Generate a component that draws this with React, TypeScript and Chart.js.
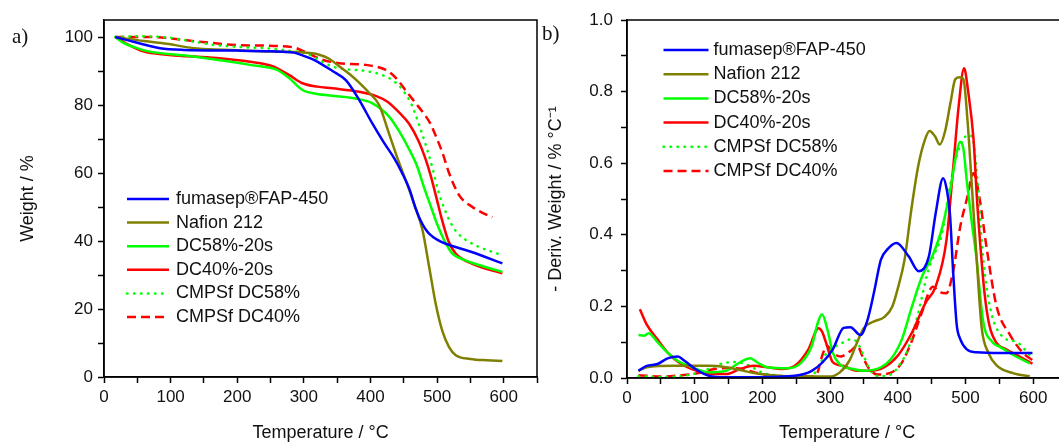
import React, { useEffect, useRef } from 'react';
import { Chart, registerables } from 'chart.js';
Chart.register(...registerables);

const FONT = '"Liberation Sans", Arial, sans-serif';

const seriesLabels = ['fumasep®FAP-450', 'Nafion 212', 'DC58%-20s', 'DC40%-20s', 'CMPSf DC58%', 'CMPSf DC40%'];

// ---- Panel a) TGA: weight (%) vs temperature (°C)
const tgaFumasepT = [17, 44, 84, 120, 200, 250, 285, 298, 318, 343, 363, 383, 403, 420, 436, 448, 458, 468, 473, 478, 483, 488, 500, 513, 553, 598];
const tgaFumasepW = [100, 98.6, 96.7, 96.2, 96.0, 95.8, 95.4, 94.6, 93.0, 90.0, 87.3, 81.5, 74.5, 69.0, 64.2, 59.8, 55.5, 49.5, 47.0, 45.0, 43.4, 42.2, 40.4, 39.2, 36.7, 33.4];
const tgaNafionT = [17, 60, 94, 140, 200, 250, 295, 323, 338, 353, 368, 383, 398, 413, 428, 443, 455, 467, 478, 488, 498, 508, 518, 528, 550, 575, 598];
const tgaNafionW = [100, 98.8, 98.0, 96.6, 96.1, 95.7, 95.5, 94.8, 93.6, 91.4, 89.2, 86.6, 83.6, 80.0, 71.5, 63.0, 56.8, 50.0, 43.3, 32.5, 21.5, 13.5, 8.8, 6.4, 5.3, 4.9, 4.7];
const tgaDc58T = [17, 30, 44, 69, 119, 169, 219, 259, 278, 298, 318, 350, 375, 403, 428, 443, 458, 470, 480, 490, 500, 510, 522, 540, 570, 598];
const tgaDc58W = [100, 98.2, 97.1, 95.7, 94.6, 93.3, 91.8, 90.4, 87.9, 84.4, 83.3, 82.6, 82.0, 80.5, 76.6, 72.3, 67.0, 62.0, 56.0, 50.5, 45.0, 40.5, 36.5, 34.5, 32.5, 30.9];
const tgaDc40T = [17, 34, 59, 94, 169, 219, 253, 278, 298, 320, 343, 383, 408, 425, 443, 458, 472, 482, 490, 498, 507, 517, 528, 553, 598];
const tgaDc40W = [100, 98.0, 95.8, 94.8, 93.8, 92.7, 91.4, 88.8, 86.4, 85.4, 84.9, 83.9, 82.7, 81.0, 77.8, 74.5, 69.5, 64.5, 59.5, 53.5, 46.5, 40.0, 36.3, 33.3, 30.5];
const tgaCm58T = [17, 50, 94, 130, 169, 210, 244, 275, 303, 325, 343, 360, 393, 415, 436, 450, 462, 475, 485, 493, 502, 510, 520, 530, 555, 598];
const tgaCm58W = [100, 100.2, 99.9, 98.8, 97.6, 97.0, 96.7, 96.0, 95.2, 93.0, 91.3, 90.6, 90.0, 89.0, 86.9, 84.0, 80.0, 73.0, 67.0, 61.5, 54.5, 50.0, 45.5, 42.5, 39.0, 35.8];
const tgaCm40T = [17, 69, 144, 204, 283, 303, 325, 353, 393, 423, 438, 452, 468, 480, 490, 500, 508, 518, 533, 553, 568, 583];
const tgaCm40W = [100, 100, 98.6, 97.6, 97.0, 95.5, 93.5, 92.3, 91.8, 90.3, 88.0, 84.5, 80.5, 77.5, 74.5, 70.0, 66.0, 60.0, 53.5, 50.0, 48.3, 47.0];

// ---- Panel b) DTG: -deriv. weight (% °C^-1) vs temperature (°C)
const dtgFumasepT = [17, 29, 45, 60, 75, 85, 101, 121, 146, 197, 248, 273, 289, 304, 320, 330, 345, 355, 365, 375, 385, 398, 416, 431, 446, 456, 467, 472, 477, 482, 487, 492, 502, 516, 553, 599];
const dtgFumasepD = [0.02, 0.034, 0.039, 0.055, 0.06, 0.048, 0.025, 0.006, 0.002, 0.002, 0.006, 0.02, 0.044, 0.08, 0.14, 0.142, 0.12, 0.16, 0.24, 0.33, 0.36, 0.377, 0.34, 0.298, 0.34, 0.46, 0.558, 0.53, 0.46, 0.29, 0.15, 0.11, 0.08, 0.072, 0.07, 0.07];
const dtgNafionT = [17, 29, 70, 121, 146, 197, 248, 299, 314, 329, 340, 350, 365, 380, 392, 400, 410, 420, 430, 440, 447, 455, 462, 470, 478, 485, 492, 497, 503, 510, 517, 524, 534, 546, 571, 595];
const dtgNafionD = [0.02, 0.03, 0.034, 0.034, 0.03, 0.011, 0.004, 0.004, 0.015, 0.05, 0.1, 0.14, 0.158, 0.17, 0.2, 0.25, 0.33, 0.47, 0.59, 0.665, 0.69, 0.675, 0.652, 0.69, 0.77, 0.835, 0.84, 0.835, 0.72, 0.52, 0.32, 0.14, 0.07, 0.035, 0.013, 0.005];
const dtgDc58T = [17, 25, 32, 45, 60, 75, 96, 121, 146, 167, 182, 192, 207, 238, 258, 273, 282, 288, 296, 304, 314, 334, 350, 375, 390, 406, 421, 436, 451, 466, 478, 486, 492, 497, 502, 509, 516, 526, 540, 551, 570, 595];
const dtgDc58D = [0.12, 0.118, 0.125, 0.1, 0.071, 0.048, 0.03, 0.016, 0.02, 0.044, 0.055, 0.044, 0.03, 0.027, 0.044, 0.09, 0.155, 0.178, 0.136, 0.071, 0.039, 0.025, 0.02, 0.03, 0.053, 0.108, 0.2, 0.284, 0.34, 0.423, 0.53, 0.62, 0.66, 0.64, 0.55, 0.44, 0.34, 0.16, 0.1, 0.087, 0.065, 0.041];
const dtgDc40T = [19, 29, 45, 60, 80, 96, 121, 146, 167, 187, 207, 228, 248, 268, 283, 288, 294, 304, 319, 339, 360, 380, 400, 421, 441, 456, 472, 482, 490, 498, 504, 512, 517, 522, 528, 535, 545, 560, 580, 599];
const dtgDc40D = [0.192, 0.15, 0.108, 0.071, 0.039, 0.025, 0.011, 0.011, 0.025, 0.034, 0.03, 0.025, 0.034, 0.08, 0.139, 0.13, 0.099, 0.044, 0.034, 0.02, 0.02, 0.03, 0.062, 0.127, 0.21, 0.256, 0.386, 0.59, 0.76, 0.865, 0.8, 0.665, 0.5, 0.37, 0.24, 0.15, 0.1, 0.08, 0.06, 0.04];
const dtgCm58T = [17, 50, 80, 100, 120, 140, 160, 180, 200, 230, 260, 275, 285, 295, 305, 320, 330, 340, 350, 360, 372, 390, 400, 415, 430, 445, 455, 465, 477, 487, 496, 504, 510, 516, 526, 536, 555, 576, 595];
const dtgCm58D = [0.005, 0.003, 0.005, 0.012, 0.025, 0.04, 0.045, 0.035, 0.015, 0.006, 0.004, 0.01, 0.04, 0.07, 0.085, 0.1, 0.108, 0.1, 0.06, 0.02, 0.005, 0.01, 0.03, 0.08, 0.18, 0.3, 0.35, 0.4, 0.534, 0.62, 0.665, 0.678, 0.674, 0.59, 0.339, 0.2, 0.115, 0.1, 0.064];
const dtgCm40T = [17, 50, 80, 100, 130, 150, 170, 190, 210, 240, 270, 280, 288, 295, 305, 315, 330, 340, 348, 358, 370, 390, 405, 420, 435, 452, 462, 472, 482, 492, 502, 512, 521, 531, 546, 566, 585, 599];
const dtgCm40D = [0.008, 0.004, 0.008, 0.012, 0.025, 0.028, 0.025, 0.015, 0.008, 0.004, 0.004, 0.01, 0.06, 0.09, 0.07, 0.06, 0.075, 0.09, 0.06, 0.025, 0.01, 0.015, 0.04, 0.1, 0.18, 0.255, 0.24, 0.237, 0.3, 0.42, 0.5, 0.572, 0.5, 0.367, 0.2, 0.12, 0.07, 0.05];

const tempTickLabels = ['0', '100', '200', '300', '400', '500', '600'];
const weightTickLabels = ['0', '20', '40', '60', '80', '100'];
const derivTickLabels = ['0.0', '0.2', '0.4', '0.6', '0.8', '1.0'];

const STYLES = [
  { color: '#0000ff', dash: [] as number[], cap: 'butt' },
  { color: '#808000', dash: [] as number[], cap: 'butt' },
  { color: '#00ff00', dash: [] as number[], cap: 'butt' },
  { color: '#ff0000', dash: [] as number[], cap: 'butt' },
  { color: '#00ff00', dash: [0.5, 6.5], cap: 'round' },
  { color: '#ff0000', dash: [9, 5], cap: 'butt' },
];

const zip = (t: number[], v: number[]) => t.map((x, i) => ({ x, y: v[i] }));

const makeDatasets = (pairs: [number[], number[]][]) =>
  pairs.map(([t, v], i) => ({
    label: seriesLabels[i],
    data: zip(t, v),
    borderColor: STYLES[i].color,
    backgroundColor: STYLES[i].color,
    borderWidth: 2.5,
    borderDash: STYLES[i].dash,
    borderCapStyle: STYLES[i].cap,
    pointRadius: 0,
    cubicInterpolationMode: 'monotone',
    fill: false,
  }));

// tick positions (major + minor) for an axis
const tickValues = (min: number, max: number, step: number) => {
  const out: { value: number }[] = [];
  const n = Math.round((max - min) / step);
  for (let i = 0; i <= n; i++) out.push({ value: Math.round((min + i * step) * 1000) / 1000 });
  return out;
};

const framePlugin = {
  id: 'frame',
  afterDraw(chart: any) {
    const { ctx, chartArea: a } = chart;
    ctx.save();
    ctx.strokeStyle = '#000';
    ctx.lineWidth = 1.5;
    ctx.strokeRect(a.left, a.top, a.right - a.left, a.bottom - a.top);
    ctx.restore();
  },
};

const legendPlugin = {
  id: 'customLegend',
  afterDatasetsDraw(chart: any, _args: any, opts: any) {
    const ctx = chart.ctx;
    ctx.save();
    chart.data.datasets.forEach((ds: any, i: number) => {
      const y = opts.y + i * opts.dy;
      ctx.strokeStyle = ds.borderColor;
      ctx.lineWidth = ds.borderWidth;
      ctx.lineCap = ds.borderCapStyle;
      ctx.setLineDash(ds.borderDash || []);
      ctx.beginPath();
      ctx.moveTo(opts.x1, y);
      ctx.lineTo(opts.x2, y);
      ctx.stroke();
      ctx.setLineDash([]);
      ctx.fillStyle = '#111';
      ctx.font = `18px ${FONT}`;
      ctx.textBaseline = 'middle';
      ctx.textAlign = 'left';
      ctx.fillText(ds.label, opts.tx, y);
    });
    ctx.restore();
  },
};

const tickFont = { family: FONT, size: 17 };
const titleFont = { family: FONT, size: 18 };

function axisBase() {
  return {
    grid: { drawOnChartArea: false, drawTicks: true, tickLength: 6, tickWidth: 1.5, tickColor: '#000' },
    border: { display: true, color: '#000', width: 1.5 },
  };
}

function tempAxis(height: number) {
  return {
    type: 'linear',
    min: 0,
    max: 650,
    ...axisBase(),
    afterBuildTicks: (s: any) => { s.ticks = tickValues(0, 650, 50); },
    ticks: {
      autoSkip: false,
      maxRotation: 0,
      padding: 4,
      font: tickFont,
      color: '#111',
      callback: (v: number) => (tempTickLabels.includes(String(v)) ? String(v) : ''),
    },
    title: { display: true, text: 'Temperature / °C', font: titleFont, color: '#111', padding: { top: 0, bottom: 1 } },
    afterFit: (s: any) => { s.height = height; },
  };
}

export default function App() {
  const leftRef = useRef<HTMLCanvasElement>(null);
  const rightRef = useRef<HTMLCanvasElement>(null);

  useEffect(() => {
    const left = new Chart(leftRef.current as HTMLCanvasElement, {
      type: 'line',
      data: {
        datasets: makeDatasets([
          [tgaFumasepT, tgaFumasepW],
          [tgaNafionT, tgaNafionW],
          [tgaDc58T, tgaDc58W],
          [tgaDc40T, tgaDc40W],
          [tgaCm58T, tgaCm58W],
          [tgaCm40T, tgaCm40W],
        ]) as any,
      },
      options: {
        responsive: false,
        animation: false,
        events: [],
        layout: { padding: { left: 0, top: 20, right: 3, bottom: 0 } },
        plugins: {
          legend: { display: false },
          tooltip: { enabled: false },
          customLegend: { x1: 127, x2: 169, tx: 176, y: 199, dy: 23.6 },
        } as any,
        scales: {
          x: tempAxis(68) as any,
          y: {
            type: 'linear',
            min: 0,
            max: 105,
            ...axisBase(),
            afterBuildTicks: (s: any) => { s.ticks = tickValues(0, 100, 10); },
            ticks: {
              autoSkip: false,
              padding: 5,
              font: tickFont,
              color: '#111',
              callback: (v: number) => (weightTickLabels.includes(String(v)) ? String(v) : ''),
            },
            title: { display: true, text: 'Weight / %', font: titleFont, color: '#111', padding: { top: 17, bottom: 0 } },
            afterFit: (s: any) => { s.width = 104; },
          } as any,
        },
      },
      plugins: [framePlugin, legendPlugin],
    });

    const right = new Chart(rightRef.current as HTMLCanvasElement, {
      type: 'line',
      data: {
        datasets: makeDatasets([
          [dtgFumasepT, dtgFumasepD],
          [dtgNafionT, dtgNafionD],
          [dtgDc58T, dtgDc58D],
          [dtgDc40T, dtgDc40D],
          [dtgCm58T, dtgCm58D],
          [dtgCm40T, dtgCm40D],
        ]) as any,
      },
      options: {
        responsive: false,
        animation: false,
        events: [],
        layout: { padding: { left: 0, top: 20, right: 4, bottom: 0 } },
        plugins: {
          legend: { display: false },
          tooltip: { enabled: false },
          customLegend: { x1: 122.5, x2: 167.5, tx: 172.5, y: 50, dy: 24.2 },
        } as any,
        scales: {
          x: tempAxis(67) as any,
          y: {
            type: 'linear',
            min: 0,
            max: 1,
            ...axisBase(),
            afterBuildTicks: (s: any) => { s.ticks = tickValues(0, 1, 0.1); },
            ticks: {
              autoSkip: false,
              padding: 8,
              font: tickFont,
              color: '#111',
              callback: (v: number) => {
                const s = (Math.round(v * 10) / 10).toFixed(1);
                return derivTickLabels.includes(s) ? s : '';
              },
            },
            title: { display: true, text: '- Deriv. Weight / % °C⁻¹', font: titleFont, color: '#111', padding: { top: 4, bottom: 0 } },
            afterFit: (s: any) => { s.width = 86; },
          } as any,
        },
      },
      plugins: [framePlugin, legendPlugin],
    });

    return () => {
      left.destroy();
      right.destroy();
    };
  }, []);

  return (
    <div style={{ position: 'fixed', left: 0, top: 0, width: 1059, height: 445, overflow: 'hidden', background: '#fff' }}>
      <div style={{ position: 'absolute', left: 0, top: 0, width: 541, height: 445 }}>
        <canvas ref={leftRef} width={541} height={445} />
      </div>
      <div style={{ position: 'absolute', left: 541, top: 0, width: 530, height: 445 }}>
        <canvas ref={rightRef} width={530} height={445} />
      </div>
      <div style={{ position: 'absolute', left: 12, top: 23, font: '21px "Liberation Serif", "Times New Roman", serif', color: '#111', lineHeight: '26px' }}>a)</div>
      <div style={{ position: 'absolute', left: 542, top: 20, font: '21px "Liberation Serif", "Times New Roman", serif', color: '#111', lineHeight: '26px' }}>b)</div>
    </div>
  );
}
